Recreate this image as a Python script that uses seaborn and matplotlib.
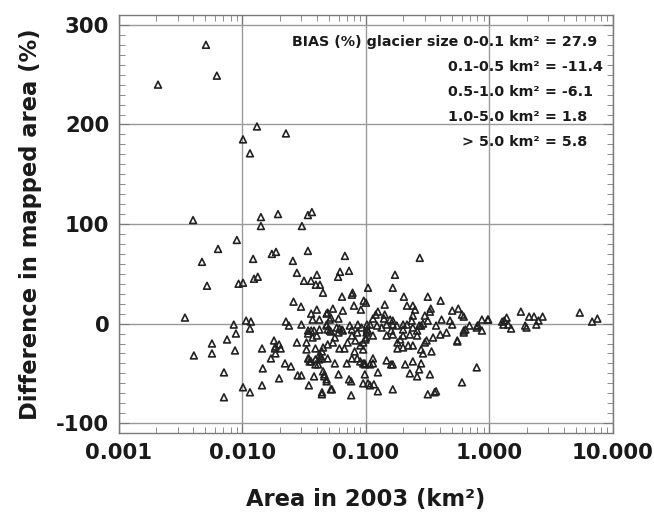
import matplotlib
matplotlib.use("Agg")
import matplotlib.pyplot as plt
import seaborn as sns
import pandas as pd
from matplotlib.ticker import MultipleLocator, LogLocator, NullFormatter

sns.set_style("ticks")
plt.rcParams['font.family'] = ['DejaVu Sans']
plt.rcParams['font.weight'] = 'bold'
plt.rcParams['axes.unicode_minus'] = False

# glaciers smaller than 0.01 km2
area_xs = [0.00207, 0.00506, 0.0062, 0.00398, 0.0090, 0.00634, 0.0047, 0.00516, 0.0093,
           0.00342, 0.0085, 0.00885, 0.0075, 0.00566, 0.00566, 0.00404, 0.0087, 0.00708, 0.00708]
diff_xs = [240, 280, 249, 104, 84, 75, 62, 38, 40,
           6, -1, -10, -16, -20, -30, -32, -27, -49, -74]

# 0.01 - 0.1 km2
area_s = [0.0101, 0.0131, 0.0115, 0.0225, 0.0141, 0.0141, 0.0194, 0.0339, 0.0365, 0.0303,
          0.0122, 0.0173, 0.0187, 0.0256, 0.0339, 0.0101, 0.0124, 0.0133, 0.0276, 0.0315,
          0.0359, 0.0401, 0.0393, 0.0424, 0.0449, 0.0259, 0.0298, 0.0107, 0.0117, 0.0115,
          0.0101, 0.0115, 0.0144, 0.0146, 0.0144, 0.0170, 0.0198, 0.0221, 0.0247, 0.0225,
          0.0238, 0.030, 0.0276, 0.028, 0.030, 0.0345, 0.038, 0.0441, 0.046, 0.048,
          0.053, 0.034, 0.037, 0.033, 0.0345, 0.035, 0.039, 0.042, 0.039, 0.044,
          0.043, 0.036, 0.040, 0.042, 0.037, 0.048, 0.051, 0.054, 0.048, 0.049,
          0.052, 0.058, 0.0676, 0.0617, 0.0595, 0.073, 0.064, 0.078, 0.077, 0.096,
          0.080, 0.091, 0.065, 0.049, 0.052, 0.060, 0.034, 0.051, 0.061, 0.065,
          0.077, 0.086, 0.092, 0.018, 0.0185, 0.0198, 0.0183, 0.0204, 0.0185, 0.033,
          0.036, 0.040, 0.038, 0.042, 0.048, 0.056, 0.060, 0.064, 0.074, 0.077,
          0.085, 0.082, 0.090, 0.099, 0.045, 0.049, 0.054, 0.061, 0.067, 0.071,
          0.081, 0.085, 0.034, 0.036, 0.039, 0.041, 0.044, 0.042, 0.049, 0.056,
          0.070, 0.077, 0.090, 0.098, 0.045, 0.046, 0.048, 0.060, 0.073, 0.076,
          0.098, 0.095, 0.044, 0.052, 0.076, 0.095, 0.098, 0.095, 0.095]
diff_s = [185, 198, 171, 191, 107, 98, 110, 109, 112, 98,
          65, 70, 72, 63, 73, 41, 45, 47, 51, 43,
          43, 49, 39, 39, 31, 22, 17, 3, 2, -5,
          -64, -69, -25, -45, -62, -35, -55, -40, -43, 2,
          -2, -1, -19, -52, -52, -62, -53, -69, -51, -56,
          -66, -10, -14, -26, -35, -38, -41, -36, -25, -28,
          -33, 10, 14, 4, 4, 10, 4, 15, -1, -6,
          -8, -4, 68, 52, 47, 53, 27, 31, 29, 23,
          18, 14, 13, 11, 6, 5, -7, -7, -5, -7,
          -6, -1, -4, -17, -23, -21, -25, -25, -30, -19,
          -7, -12, -7, -6, -2, -14, -9, -6, -2, -12,
          -9, -17, -22, -16, -24, -21, -19, -25, -25, -19,
          -28, -35, -35, -38, -36, -41, -35, -31, -35, -40,
          -40, -35, -38, -40, -48, -53, -58, -51, -56, -58,
          -51, -60, -71, -66, -72, -40, -41, -26, -19]

# 0.1 - 1 km2
area_m = [0.100, 0.104, 0.104, 0.102, 0.102, 0.273, 0.172, 0.165, 0.203, 0.317,
          0.403, 0.142, 0.215, 0.24, 0.25, 0.335, 0.33, 0.56, 0.50, 0.60,
          0.62, 0.125, 0.12, 0.114, 0.142, 0.14, 0.157, 0.165, 0.24, 0.235,
          0.30, 0.317, 0.41, 0.48, 0.87, 0.97, 0.108, 0.123, 0.165, 0.20,
          0.27, 0.29, 0.37, 0.50, 0.69, 0.79, 0.104, 0.108, 0.116, 0.125,
          0.125, 0.165, 0.208, 0.24, 0.227, 0.26, 0.27, 0.28, 0.33, 0.317,
          0.37, 0.60, 0.79, 0.147, 0.16, 0.165, 0.108, 0.114, 0.114, 0.10,
          0.114, 0.101, 0.18, 0.20, 0.22, 0.24, 0.18, 0.19, 0.31, 0.35,
          0.40, 0.45, 0.55, 0.62, 0.81, 0.87, 0.28, 0.29, 0.34, 0.30,
          0.134, 0.147, 0.16, 0.178, 0.20, 0.215, 0.24, 0.26, 0.28, 0.147,
          0.165, 0.20, 0.227, 0.26, 0.64, 0.62, 0.55, 0.36, 0.98, 0.80]
diff_m = [21, 36, -7, -1, -6, 66, 49, 36, 27, 27,
          23, 19, 18, 18, 14, 15, 12, 15, 13, 9,
          7, 12, 9, 5, 9, 5, 4, 3, 8, 3,
          8, 3, 4, 3, 4, 4, -1, -2, -1, -1,
          -2, 0, -2, -1, -2, -4, -60, -62, -61, -68,
          -49, -66, -41, -38, -50, -53, -46, -40, -51, -71,
          -68, -59, -44, -37, -41, -41, -41, -35, -40, -14,
          -12, -9, -25, -24, -22, -22, -19, -16, -17, -14,
          -11, -9, -17, -7, -2, -7, -26, -30, -28, -19,
          -4, -1, -7, -2, -6, -1, -4, -7, -2, -12,
          -11, -12, -11, -12, -6, -9, -18, -69, 4, -2]

# larger than 1 km2
area_l = [1.80, 2.1, 2.3, 2.7, 2.5, 2.4, 1.38, 1.32, 1.27, 1.42, 1.5, 1.3, 1.95, 2.0, 5.4, 6.8, 7.5]
diff_l = [12, 7, 7, 7, 3, -1, 6, 3, 2, -1, -5, -1, -2, -4, 11, 2, 5]

bias_labels = ["BIAS (%) glacier size 0-0.1 km²", "0.1-0.5 km²", "0.5-1.0 km²",
               "1.0-5.0 km²", "> 5.0 km²"]
bias_values = ["= 27.9", "= -11.4", "= -6.1", "= 1.8", "= 5.8"]

x_ticks = [0.001, 0.01, 0.1, 1, 10]
x_ticklabels = ["0.001", "0.010", "0.100", "1.000", "10.000"]
y_ticks = [-100, 0, 100, 200, 300]

df = pd.DataFrame({
    "area": area_xs + area_s + area_m + area_l,
    "diff": diff_xs + diff_s + diff_m + diff_l,
})

fig = plt.figure(figsize=(6.54, 5.15), dpi=100)
ax = fig.add_axes([0.182, 0.159, 0.755, 0.812])

sns.scatterplot(data=df, x="area", y="diff", marker="^", s=24,
                facecolors="none", edgecolors="#222222", linewidths=1.2, ax=ax)

ax.set_xscale("log")
ax.set_xlim(0.001, 10)
ax.set_ylim(-110, 310)
ax.set_xticks(x_ticks, labels=x_ticklabels)
ax.xaxis.set_minor_locator(LogLocator(base=10, subs=range(2, 10)))
ax.xaxis.set_minor_formatter(NullFormatter())
ax.set_yticks(y_ticks)
ax.yaxis.set_minor_locator(MultipleLocator(10))

ax.grid(True, which="major", color="#9a9a9a", linewidth=1)
for sp in ax.spines.values():
    sp.set_color("#7a7a7a")
    sp.set_linewidth(1)
ax.tick_params(which="both", direction="in", top=True, right=True, color="#7a7a7a")
ax.tick_params(which="major", length=7, labelsize=15.3, labelcolor="#1a1a1a")
ax.tick_params(axis="x", which="major", pad=7)
ax.tick_params(axis="y", which="major", pad=7)
ax.tick_params(which="minor", length=4)

ax.set_xlabel("Area in 2003 (km²)", fontsize=16.3, fontweight="bold", color="#1a1a1a", labelpad=18)
ax.set_ylabel("Difference in mapped area (%)", fontsize=16.3, fontweight="bold", color="#1a1a1a", labelpad=10)

for i, (lab, val) in enumerate(zip(bias_labels, bias_values)):
    yy = 0.935 - i * 0.0598
    ax.text(0.851, yy, lab, transform=ax.transAxes, ha="right", va="center",
            fontsize=10.3, fontweight="bold", color="#1a1a1a")
    ax.text(0.862, yy, val, transform=ax.transAxes, ha="left", va="center",
            fontsize=10.3, fontweight="bold", color="#1a1a1a")

fig.savefig("out.png", dpi=100)
